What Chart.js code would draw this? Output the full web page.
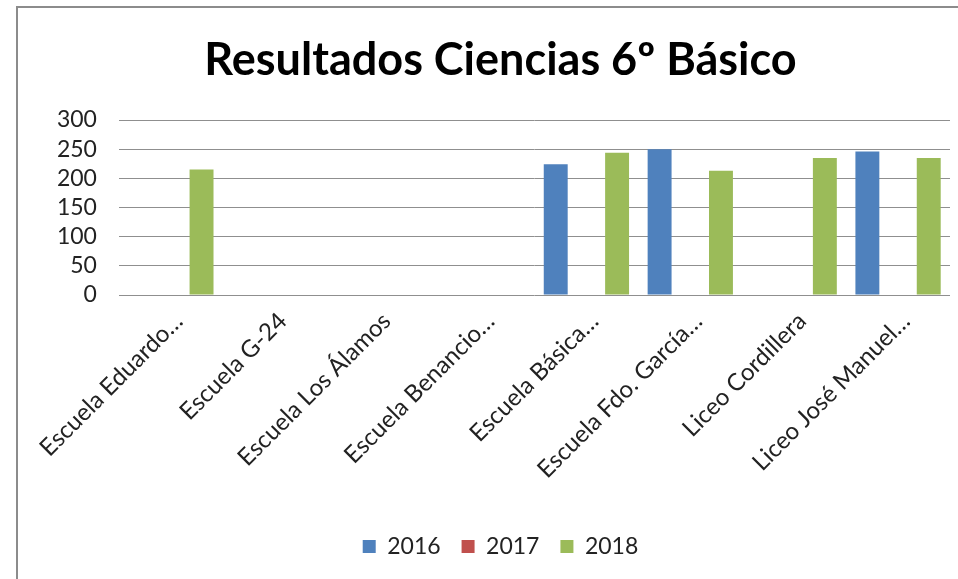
<!DOCTYPE html>
<html>
<head>
<meta charset="utf-8">
<script src="https://cdn.jsdelivr.net/npm/chart.js@4"></script>
<style>
  html, body { margin: 0; padding: 0; width: 958px; height: 579px; overflow: hidden; background: #fff; }
  #frame { position: absolute; left: 16px; top: 6px; width: 1000px; height: 1000px;
           border-top: 2px solid #8c8c8c; border-left: 2px solid #8c8c8c; }
  #c { position: absolute; left: 18px; top: 8px; }
</style>
</head>
<body>
<div id="frame"></div>
<canvas id="c" width="965" height="571"></canvas>
<script>
const categories = ["Escuela Eduardo…", "Escuela G-24", "Escuela Los Álamos", "Escuela Benancio…",
                    "Escuela Básica…", "Escuela Fdo. García…", "Liceo Cordillera", "Liceo José Manuel…"];
const seriesNames = ["2016", "2017", "2018"];
const values2016 = [null, null, null, null, 224, 250, null, 246];
const values2017 = [null, null, null, null, null, null, null, null];
const values2018 = [215, null, null, null, 244, 213, 235, 235];
const yTicks = [0, 50, 100, 150, 200, 250, 300];
const colors = ["#4F81BD", "#C0504D", "#9BBB59"];

const FONT = "Lato, Carlito, Calibri, sans-serif";

new Chart(document.getElementById("c"), {
  type: "bar",
  data: {
    labels: categories,
    datasets: [values2016, values2017, values2018].map((v, i) => ({
      label: seriesNames[i],
      data: v,
      backgroundColor: colors[i],
      borderWidth: 0,
      categoryPercentage: 0.886,
      barPercentage: 0.78
    }))
  },
  options: {
    responsive: false,
    animation: false,
    devicePixelRatio: 1,
    layout: { padding: { left: 0, right: 0, top: 0, bottom: 11 } },
    plugins: {
      title: {
        display: true,
        text: "Resultados Ciencias 6º Básico",
        color: "#000",
        font: { family: FONT, size: 45, weight: "bold", lineHeight: 1.2 },
        padding: { top: 25, bottom: 33 }
      },
      legend: {
        position: "bottom",
        labels: {
          boxWidth: 13, boxHeight: 13, padding: 21,
          color: "#222",
          font: { family: FONT, size: 23 }
        }
      },
      tooltip: { enabled: false }
    },
    scales: {
      x: {
        grid: { display: false, drawTicks: false },
        border: { display: false },
        ticks: {
          autoSkip: false, maxRotation: 45, minRotation: 45,
          padding: 12, labelOffset: 8,
          color: "#222",
          font: { family: FONT, size: 24 }
        },
        afterFit: s => { s.height = 219; }
      },
      y: {
        min: 0, max: 300,
        afterBuildTicks: s => { s.ticks = yTicks.map(v => ({ value: v })); },
        grid: { color: "#8f8f8f", lineWidth: 1, drawTicks: false },
        border: { display: false },
        ticks: { autoSkip: false, padding: 22, color: "#222", font: { family: FONT, size: 23, lineHeight: 1 } },
        afterFit: s => { s.width = 96; }
      },
      spacer: {
        position: "right",
        display: true,
        grid: { display: false, drawTicks: false },
        border: { display: false },
        ticks: { display: false },
        afterFit: s => { s.width = 33; }
      }
    }
  }
});
</script>
</body>
</html>
